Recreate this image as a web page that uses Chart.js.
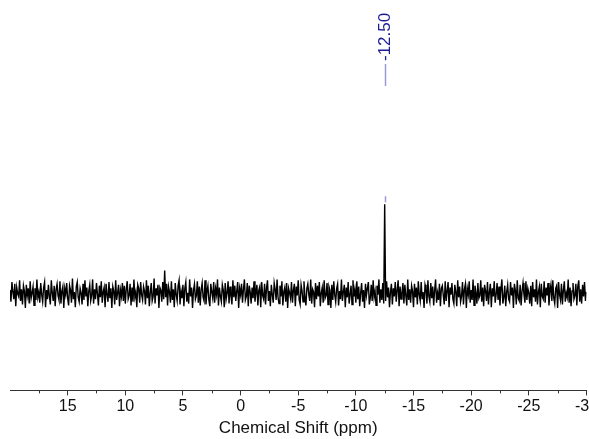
<!DOCTYPE html>
<html>
<head>
<meta charset="utf-8">
<script src="https://cdn.jsdelivr.net/npm/chart.js@4/dist/chart.umd.min.js"></script>
<style>
  html, body { margin: 0; padding: 0; background: #fff; overflow: hidden; }
  #wrap { width: 600px; height: 439px; }
</style>
</head>
<body>
<div id="wrap"><canvas id="spec"></canvas></div>
<script>
// spectrum from 20 ppm to -30 ppm, one point every 1/12 ppm (601 points)
var ppmStart = 20, ppmEnd = -30;
var intensity = [
  4,-9,13,2,-6,11,-14,7,0,-3,15,-8,5,-12,9,3,-16,10,-2,6,
  -11,14,-5,1,8,-13,6,-7,16,-4,2,-10,12,-1,-9,7,13,-15,4,-6,
  10,-3,-12,15,1,-8,9,-14,5,11,-2,-7,14,-11,3,8,-16,6,-1,12,
  -5,-13,9,4,-10,17,-6,2,-15,8,13,-4,-9,6,1,-12,11,-7,15,-3,
  7,-14,3,10,-8,-2,16,-11,5,-6,12,0,-13,9,-4,14,-10,2,7,-15,
  11,-1,-9,13,-5,6,-16,8,3,-12,15,-7,1,10,-14,4,-3,12,-8,9,
  -11,5,14,-6,-2,11,-13,7,-9,16,-4,2,-15,10,6,-10,13,-1,-7,8,
  3,-12,15,-5,9,-14,1,12,-8,-3,17,-11,6,-2,10,-16,7,4,-9,13,
  -6,26,-4,11,-13,8,2,-10,14,-7,5,-15,12,-1,-8,9,15,-12,3,-5,
  10,-14,6,13,-9,1,-11,16,-3,7,-16,4,11,-6,-2,14,-10,8,-13,5,
  12,-4,-8,15,-12,3,9,-7,-14,11,2,-5,13,-10,6,-1,16,-13,7,-3,
  -9,10,4,-15,12,-6,1,14,-11,8,-2,-12,15,-4,9,-8,3,13,-16,6,
  -1,11,-10,5,16,-7,-3,12,-14,9,2,-11,7,-5,14,-9,1,10,-13,4,
  8,-15,13,-2,-6,11,-12,6,15,-8,3,-14,10,-1,-10,12,5,-7,16,-4,
  -11,9,-3,14,-13,2,7,-9,12,-16,6,1,-5,13,-10,4,11,-14,8,-2,
  15,-7,-12,10,3,-9,14,-4,-13,6,11,-1,-8,16,-11,5,2,-15,12,-6,
  9,-3,13,-14,1,7,-10,15,-5,-2,12,-12,8,4,-16,10,-7,14,-1,-9,
  6,11,-13,3,-6,16,-8,2,10,-15,7,-4,13,-11,-1,9,-12,15,-3,5,
  -10,14,-6,8,-14,1,12,-9,4,-16,11,-2,6,13,-12,-5,10,-8,15,-4,
  3,-13,9,-1,16,-10,5,-7,12,-11,100,-8,14,-4,7,-15,2,11,-12,6,
  -3,13,-9,4,15,-14,8,-6,1,12,-11,10,-2,-13,16,-7,5,-10,9,3,
  -15,11,-4,7,-12,14,-1,-8,13,-6,2,-16,10,5,-11,15,-3,-9,12,-5,
  8,-13,4,16,-10,1,-7,11,-14,6,9,-2,-12,14,-8,3,13,-15,7,-1,
  12,-6,-11,10,2,-14,15,-4,8,-9,-3,13,-12,5,11,-16,6,-1,14,-10,
  4,-7,16,-13,9,1,-11,12,-5,-2,15,-9,7,-14,10,3,-8,13,-12,2,
  11,-15,6,-3,14,-10,-1,12,-7,8,-13,5,16,-11,-4,9,-14,2,10,-6,
  -9,13,-2,7,-16,11,4,-12,15,-5,-8,10,-13,3,12,-1,-10,14,-7,6,
  1,-11,9,-14,13,-4,5,-9,16,-12,2,8,-15,11,-3,-6,14,-10,7,-2,
  12,-13,3,10,-8,15,-5,-11,6,9,-16,13,-1,-7,11,-12,4,14,-9,1,
  -4,16,-10,7,-14,3,12,-6,-2,11,-13,8,15,-9,5,-11,10,-3,13,-8,
  2
];
var peakLabels = [-12.50];
var peakHeights = [100];
var minorTicks = [17.5, 12.5, 7.5, 2.5, -2.5, -7.5, -12.5, -17.5, -22.5, -27.5];

var step = (ppmStart - ppmEnd) / (intensity.length - 1);
var points = intensity.map(function(v, i) {
  return { x: ppmStart - i * step, y: v };
});

var peakLabelPlugin = {
  id: 'peakLabels',
  afterDraw: function(chart) {
    var ctx = chart.ctx;
    var xs = chart.scales.x, ys = chart.scales.y;
    // minor ticks under the axis line
    ctx.save();
    ctx.strokeStyle = '#333';
    ctx.lineWidth = 1;
    var yb = chart.chartArea.bottom;
    minorTicks.forEach(function(v) {
      var px = Math.round(xs.getPixelForValue(v)) + 0.5;
      ctx.beginPath();
      ctx.moveTo(px, yb);
      ctx.lineTo(px, yb + 3);
      ctx.stroke();
    });
    // peak labels
    peakLabels.forEach(function(p, i) {
      var px = Math.round(xs.getPixelForValue(p)) + 0.5;
      var top = ys.getPixelForValue(peakHeights[i]);
      ctx.strokeStyle = '#9a9ad6';
      ctx.lineWidth = 1.5;
      ctx.beginPath();
      ctx.moveTo(px, top - 2);
      ctx.lineTo(px, top - 8);
      ctx.moveTo(px, 86);
      ctx.lineTo(px, 64);
      ctx.stroke();
      ctx.translate(px, 61);
      ctx.rotate(-Math.PI / 2);
      ctx.fillStyle = '#1b1b96';
      ctx.font = '17px "Liberation Sans", Arial, sans-serif';
      ctx.textAlign = 'left';
      ctx.textBaseline = 'middle';
      ctx.fillText(p.toFixed(2), 0, 0);
      ctx.setTransform(1, 0, 0, 1, 0, 0);
    });
    ctx.restore();
  }
};

new Chart('spec', {
  type: 'line',
  data: {
    datasets: [{
      data: points,
      borderColor: '#000',
      borderWidth: 1.4,
      pointRadius: 0,
      tension: 0
    }]
  },
  options: {
    responsive: true,
    maintainAspectRatio: false,
    animation: false,
    layout: { padding: { left: 10, right: 4, top: 10, bottom: 0 } },
    plugins: { legend: { display: false }, tooltip: { enabled: false } },
    scales: {
      x: {
        type: 'linear',
        reverse: true,
        min: ppmEnd,
        max: ppmStart,
        afterBuildTicks: function(scale) {
          scale.ticks = scale.ticks.filter(function(t) { return t.value !== ppmStart; });
        },
        ticks: {
          stepSize: 5,
          color: '#111',
          padding: 2,
          maxRotation: 0,
          font: { family: '"Liberation Sans", Arial, sans-serif', size: 16 }
        },
        grid: { drawOnChartArea: false, drawTicks: true, tickLength: 5, color: '#333' },
        border: { display: true, color: '#333', width: 1 },
        title: {
          display: true,
          text: 'Chemical Shift (ppm)',
          color: '#111',
          padding: { top: 0, bottom: 0 },
          font: { family: '"Liberation Sans", Arial, sans-serif', size: 17 }
        }
      },
      y: { display: false, min: -108, max: 317 }
    }
  },
  plugins: [peakLabelPlugin]
});
</script>
</body>
</html>
